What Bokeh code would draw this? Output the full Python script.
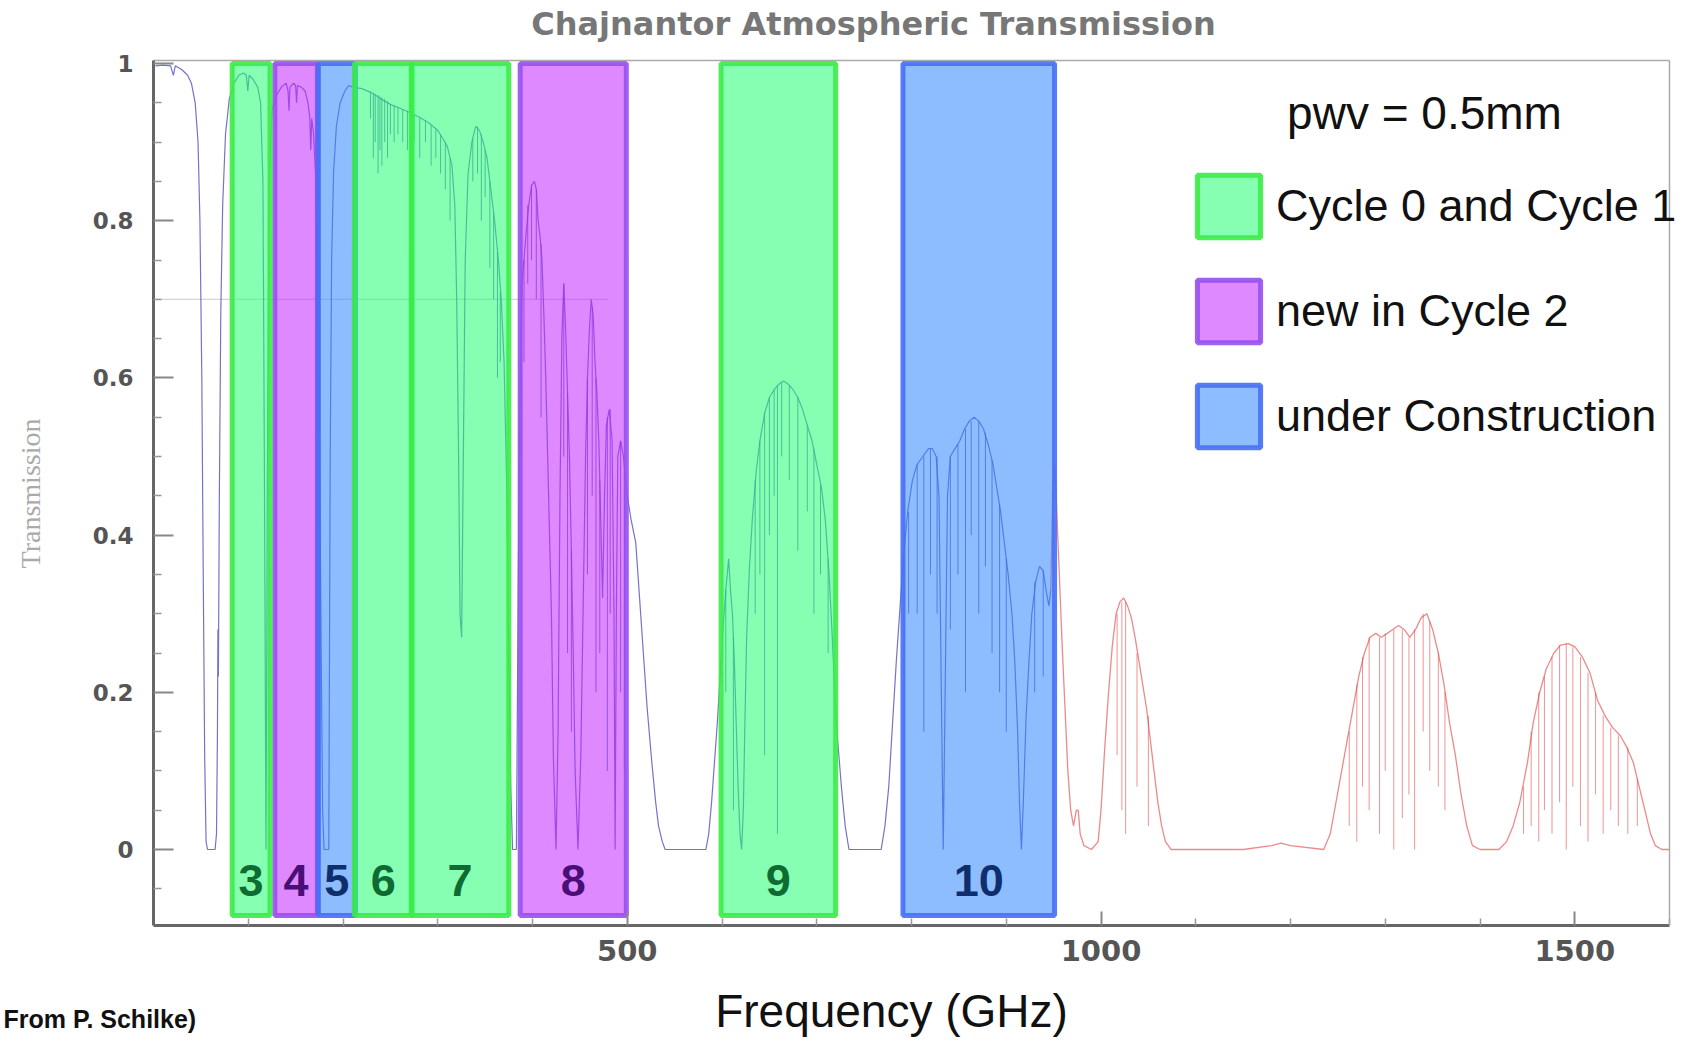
import math
from bokeh.plotting import figure
from bokeh.models import (ColumnDataSource, Label, Legend, LegendItem, FixedTicker, Range1d,
                          LinearAxis)
from bokeh.core.properties import value
from bokeh.embed import file_html
from bokeh.resources import INLINE

# ---------------- data ----------------
# ALMA bands
BAND_NAMES = ["3", "4", "5", "6", "7", "8", "9", "10"]
BAND_LO = [83, 128, 174, 212, 272, 387, 599, 791]
BAND_HI = [123, 173, 213, 273, 375, 499, 720, 951]
BAND_STATUS = ["c01", "c2", "uc", "c01", "c01", "c2", "c01", "uc"]

# transmission envelope (GHz, transmission), blue part
FREQ_A = [2, 10, 18, 21, 23, 30, 36, 40, 44, 47, 49, 51, 52.5, 54, 55.5, 57, 65, 66.5, 67.5, 68,
          68.5, 69.5, 71, 73, 76, 80, 85, 90, 95, 98, 99.5, 101, 105, 110, 113, 115.5, 117, 118.7,
          120.3, 122, 125, 130, 135, 140, 142, 143, 144, 148, 150, 151, 152, 156, 160, 163, 165,
          166, 167, 169, 171, 173, 175, 177, 178.5, 180, 185, 186.5, 188, 190, 193, 197, 202, 206,
          210, 220, 230, 240, 250, 260, 270, 280, 290, 300, 310, 315, 318, 320, 322, 323.5, 325.2,
          327, 329, 332, 336, 340, 344, 348, 352, 356, 360, 364, 367, 370, 373, 375, 377, 379, 383]
TRANS_A = [0.997, 0.998, 0.997, 0.985, 0.997, 0.992, 0.985, 0.975, 0.95, 0.9, 0.8, 0.6, 0.35, 0.12,
           0.01, 0.0, 0.0, 0.02, 0.15, 0.28, 0.22, 0.45, 0.68, 0.82, 0.91, 0.955, 0.975, 0.985,
           0.988, 0.985, 0.965, 0.985, 0.98, 0.97, 0.95, 0.85, 0.5, 0.0, 0.5, 0.85, 0.94, 0.96,
           0.97, 0.975, 0.965, 0.94, 0.97, 0.975, 0.972, 0.95, 0.972, 0.97, 0.965, 0.95, 0.93,
           0.89, 0.93, 0.91, 0.86, 0.76, 0.55, 0.25, 0.05, 0.0, 0.0, 0.5, 0.75, 0.86, 0.92, 0.95,
           0.965, 0.972, 0.97, 0.968, 0.963, 0.955, 0.948, 0.943, 0.938, 0.932, 0.925, 0.915,
           0.895, 0.87, 0.82, 0.7, 0.5, 0.3, 0.27, 0.5, 0.75, 0.86, 0.9, 0.92, 0.915, 0.9, 0.88,
           0.84, 0.8, 0.75, 0.7, 0.62, 0.45, 0.25, 0.08, 0.0, 0.0]

FREQ_B = [383, 385, 387, 389, 391, 393, 396, 399, 402, 404, 406, 408, 410, 412, 414, 416, 418, 420,
          422, 424.8, 427, 429, 431, 433, 435, 437, 439, 441, 443, 445, 448, 451, 454, 456, 458, 460,
          462, 464, 466, 468, 470, 472, 474, 476, 478, 481, 484, 486, 487.2, 488.5, 490, 493, 496,
          500, 504, 509, 513, 517, 521, 526, 530, 533, 537, 540]
TRANS_B = [0.0, 0.35, 0.6, 0.72, 0.75, 0.78, 0.82, 0.845, 0.85, 0.84, 0.8, 0.78, 0.75, 0.68, 0.6,
           0.5, 0.4, 0.3, 0.12, 0.0, 0.15, 0.45, 0.65, 0.72, 0.66, 0.58, 0.5, 0.38, 0.25, 0.1, 0.0,
           0.12, 0.35, 0.5, 0.6, 0.66, 0.7, 0.68, 0.62, 0.58, 0.52, 0.42, 0.32, 0.45, 0.54, 0.56,
           0.52, 0.3, 0.0, 0.3, 0.5, 0.52, 0.5, 0.45, 0.42, 0.39, 0.32, 0.25, 0.18, 0.11, 0.06,
           0.03, 0.01, 0.0]

FREQ_C = [540, 583, 586, 589, 592, 595, 598, 601, 604, 607, 609, 611, 613, 615, 617, 619, 620.7,
          622.5, 624, 626, 629, 632, 636, 640, 645, 650, 655, 660, 665, 670, 675, 680, 685, 690,
          695, 700, 705, 709, 713, 716, 719, 722, 726, 730, 734, 768, 772, 776, 780, 784, 788, 792,
          796, 801, 806, 812, 818, 822, 826, 829, 831.5, 833.5, 835.5, 838, 841, 846, 851, 856,
          861, 866, 871, 876, 881, 886, 890, 894, 898, 902, 906, 909, 912, 914, 916, 918, 921, 924,
          927, 931, 935, 939, 942, 945, 947]
TRANS_C = [0.0, 0.0, 0.02, 0.06, 0.11, 0.16, 0.22, 0.28, 0.33, 0.37, 0.33, 0.3, 0.24, 0.16, 0.08,
           0.02, 0.0, 0.05, 0.15, 0.27, 0.36, 0.42, 0.48, 0.52, 0.555, 0.575, 0.585, 0.592, 0.596,
           0.592, 0.585, 0.575, 0.56, 0.54, 0.52, 0.49, 0.46, 0.42, 0.35, 0.28, 0.2, 0.14, 0.08,
           0.03, 0.0, 0.0, 0.03, 0.08, 0.16, 0.24, 0.31, 0.38, 0.43, 0.47, 0.49, 0.5, 0.51, 0.51,
           0.5, 0.45, 0.2, 0.0, 0.2, 0.45, 0.5, 0.51, 0.52, 0.535, 0.545, 0.55, 0.545, 0.535,
           0.515, 0.49, 0.46, 0.43, 0.39, 0.35, 0.3, 0.24, 0.15, 0.06, 0.0, 0.06, 0.17, 0.24, 0.3,
           0.34, 0.36, 0.355, 0.33, 0.31, 0.33]

# red part (above ~950 GHz)
FREQ_RED = [947, 949, 951, 953, 956, 959, 962, 965, 968, 971, 974, 976, 978, 982, 990, 997, 1000,
            1004, 1008, 1012, 1016, 1020, 1024, 1028, 1032, 1036, 1040, 1044, 1048, 1052, 1056,
            1060, 1064, 1068, 1074, 1150, 1180, 1190, 1200, 1235, 1242, 1248, 1254, 1260, 1266,
            1272, 1278, 1284, 1290, 1296, 1302, 1308, 1314, 1320, 1326, 1332, 1338, 1344, 1350,
            1356, 1362, 1368, 1374, 1380, 1386, 1392, 1400, 1420, 1428, 1435, 1442, 1450, 1456,
            1463, 1470, 1478, 1485, 1493, 1500, 1508, 1516, 1524, 1532, 1540, 1548, 1555, 1562,
            1568, 1574, 1580, 1585, 1592, 1600]
TRANS_RED = [0.33, 0.45, 0.49, 0.44, 0.35, 0.26, 0.18, 0.1, 0.05, 0.03, 0.05, 0.05, 0.02, 0.005,
             0.0, 0.01, 0.05, 0.13, 0.2, 0.26, 0.3, 0.315, 0.32, 0.31, 0.295, 0.27, 0.24, 0.21,
             0.18, 0.14, 0.1, 0.06, 0.03, 0.01, 0.0, 0.0, 0.005, 0.008, 0.005, 0.0, 0.02, 0.06,
             0.1, 0.14, 0.18, 0.22, 0.25, 0.27, 0.275, 0.27, 0.275, 0.28, 0.285, 0.28, 0.27, 0.28,
             0.295, 0.3, 0.28, 0.25, 0.21, 0.16, 0.12, 0.07, 0.03, 0.005, 0.0, 0.0, 0.01, 0.03,
             0.06, 0.11, 0.16, 0.2, 0.23, 0.25, 0.26, 0.262, 0.258, 0.245, 0.225, 0.19, 0.17,
             0.155, 0.145, 0.13, 0.11, 0.08, 0.05, 0.02, 0.005, 0.0, 0.0]

# narrow absorption lines: frequency, transmission at top, transmission at bottom
L67_F = [229, 232, 234, 237, 239, 241, 244, 247, 250, 254, 258, 263, 268, 275, 281, 287, 293, 298,
         303, 308, 313, 337, 342, 346, 350, 355, 359, 363, 366]
L67_T = [0.963, 0.962, 0.961, 0.96, 0.958, 0.957, 0.955, 0.952, 0.948, 0.947, 0.945, 0.942, 0.94,
         0.936, 0.931, 0.928, 0.922, 0.917, 0.91, 0.9, 0.88, 0.905, 0.92, 0.91, 0.89, 0.85, 0.81,
         0.76, 0.71]
L67_B = [0.93, 0.88, 0.9, 0.86, 0.89, 0.87, 0.9, 0.88, 0.91, 0.9, 0.91, 0.9, 0.89, 0.9, 0.88, 0.9,
         0.87, 0.88, 0.86, 0.84, 0.8, 0.85, 0.86, 0.8, 0.83, 0.74, 0.7, 0.6, 0.62]
L8_F = [391, 395, 399, 404, 409, 433, 437, 441, 458, 463, 467, 471, 479, 482, 493, 497]
L8_T = [0.75, 0.82, 0.845, 0.84, 0.77, 0.72, 0.58, 0.38, 0.6, 0.69, 0.6, 0.47, 0.55, 0.56, 0.52, 0.49]
L8_B = [0.62, 0.72, 0.75, 0.7, 0.55, 0.5, 0.25, 0.15, 0.35, 0.45, 0.2, 0.25, 0.1, 0.3, 0.2, 0.1]
L9_F = [604, 612, 635, 640, 645, 650, 655, 658.5, 663, 671, 680, 690, 697, 704, 712]
L9_T = [0.33, 0.27, 0.47, 0.52, 0.555, 0.575, 0.585, 0.59, 0.595, 0.59, 0.575, 0.54, 0.51, 0.465, 0.37]
L9_B = [0.2, 0.05, 0.3, 0.35, 0.12, 0.4, 0.45, 0.02, 0.5, 0.47, 0.38, 0.43, 0.3, 0.35, 0.25]
L10_F = [797, 806, 813, 820, 827, 841, 849, 857, 863, 871, 878, 885, 893, 900, 930, 939]
L10_T = [0.43, 0.49, 0.5, 0.51, 0.5, 0.5, 0.515, 0.535, 0.545, 0.545, 0.53, 0.495, 0.44, 0.37, 0.34, 0.355]
L10_B = [0.3, 0.3, 0.15, 0.35, 0.3, 0.28, 0.35, 0.2, 0.4, 0.3, 0.36, 0.25, 0.2, 0.15, 0.2, 0.22]
LR_F = [1017, 1022, 1026, 1038, 1050, 1262, 1270, 1276, 1283, 1294, 1300, 1309, 1318, 1325, 1331,
        1340, 1347, 1356, 1363, 1446, 1454, 1462, 1468, 1476, 1484, 1491, 1498, 1506, 1514, 1522,
        1530, 1538, 1546, 1556, 1566]
LR_T = [0.3, 0.315, 0.315, 0.25, 0.17, 0.15, 0.21, 0.245, 0.27, 0.27, 0.275, 0.28, 0.28, 0.27, 0.28,
        0.3, 0.29, 0.25, 0.2, 0.08, 0.15, 0.2, 0.22, 0.245, 0.26, 0.262, 0.258, 0.245, 0.225, 0.2,
        0.17, 0.155, 0.145, 0.13, 0.09]
LR_B = [0.12, 0.05, 0.02, 0.08, 0.03, 0.03, 0.01, 0.08, 0.05, 0.02, 0.1, 0.0, 0.04, 0.07, 0.0,
        0.15, 0.1, 0.08, 0.05, 0.02, 0.03, 0.01, 0.05, 0.02, 0.06, 0.0, 0.08, 0.03, 0.01, 0.07,
        0.02, 0.05, 0.03, 0.02, 0.03]

# faint horizontal guide visible in the original at transmission 0.7
GUIDE_FREQ = [0, 480]
GUIDE_TRANS = [0.7, 0.7]

X_TICKS = [500, 1000, 1500]
X_MINOR = [100, 200, 300, 400, 600, 700, 800, 900, 1100, 1200, 1300, 1400, 1600]
Y_TICKS = [0, 0.2, 0.4, 0.6, 0.8, 1.0]
Y_MINOR = [-0.05, 0.05, 0.1, 0.15, 0.25, 0.3, 0.35, 0.45, 0.5, 0.55, 0.65, 0.7, 0.75, 0.85, 0.9, 0.95]

for a, b in [(FREQ_A, TRANS_A), (FREQ_B, TRANS_B), (FREQ_C, TRANS_C), (FREQ_RED, TRANS_RED)]:
    assert len(a) == len(b), (len(a), len(b))
for a, b, c in [(L67_F, L67_T, L67_B), (L8_F, L8_T, L8_B), (L9_F, L9_T, L9_B),
                (L10_F, L10_T, L10_B), (LR_F, LR_T, LR_B)]:
    assert len(a) == len(b) == len(c), (len(a), len(b), len(c))

# ---------------- styling ----------------
STYLE = {
    "c01": dict(fill="#23FF73", line="#3CEB46", text="#0E6B32", label="Cycle 0 and Cycle 1"),
    "c2": dict(fill="#C328FF", line="#9650F0", text="#4A0E78", label="new in Cycle 2"),
    "uc": dict(fill="#3287FF", line="#466EF5", text="#0E2E6E", label="under Construction"),
}
X_MIN, X_MAX = 0, 1600          # plotted frequency span
Y_MIN, Y_MAX = -0.097, 1.004    # plotted transmission span
BAND_TOP = 1.0
BAND_BOTTOM = -0.084
LABEL_Y = -0.04

W, H = 1690, 1040
PX_LEFT, PX_RIGHT = 153, 1669   # pixel columns of the plotted span
PX_TOP0, PX_ZERO = 63, 849      # pixel rows of transmission 1 and 0
kx = (X_MAX - X_MIN) / (PX_RIGHT - PX_LEFT)
ky = 1.0 / (PX_ZERO - PX_TOP0)
x_range = Range1d(X_MIN - PX_LEFT * kx, X_MAX + (W - PX_RIGHT) * kx)
y_range = Range1d(-(H - PX_ZERO) * ky, PX_ZERO * ky)

p = figure(width=W, height=H, x_range=x_range, y_range=y_range,
           x_axis_type=None, y_axis_type=None, min_border=0,
           output_backend="svg", toolbar_location=None)
p.xgrid.visible = False
p.ygrid.visible = False
p.outline_line_color = None
p.background_fill_color = "white"
p.border_fill_color = "white"

# faint guide and spectrum
p.line(GUIDE_FREQ, GUIDE_TRANS, line_color="#b8b8c8", line_width=1.2, line_alpha=0.6)
freq_lo = FREQ_A + FREQ_B + FREQ_C
trans_lo = TRANS_A + TRANS_B + TRANS_C
p.line(freq_lo, trans_lo, line_color="#5050bb", line_width=1.2, line_alpha=0.8)
lf = L67_F + L8_F + L9_F + L10_F
lt = L67_T + L8_T + L9_T + L10_T
lb = L67_B + L8_B + L9_B + L10_B
p.segment(x0=lf, y0=lt, x1=lf, y1=lb, line_color="#5050bb", line_width=1.0, line_alpha=0.8)
p.line(FREQ_RED, TRANS_RED, line_color="#e03c3c", line_width=1.3, line_alpha=0.6)
p.segment(x0=LR_F, y0=LR_T, x1=LR_F, y1=LR_B, line_color="#e03c3c", line_width=1.0, line_alpha=0.55)

# bands (purple, then blue, then green on top)
renderers = {}
for status in ["c2", "uc", "c01"]:
    idx = [i for i, s in enumerate(BAND_STATUS) if s == status]
    st = STYLE[status]
    src = ColumnDataSource(dict(
        left=[BAND_LO[i] for i in idx], right=[BAND_HI[i] for i in idx],
        top=[BAND_TOP] * len(idx), bottom=[BAND_BOTTOM] * len(idx)))
    renderers[status] = p.quad(left="left", right="right", top="top", bottom="bottom", source=src,
                               fill_color=st["fill"], fill_alpha=0.55,
                               line_color=st["line"], line_width=5, line_alpha=0.9)
    p.text(x=[(BAND_LO[i] + BAND_HI[i]) / 2 for i in idx], y=[LABEL_Y] * len(idx),
           text=[BAND_NAMES[i] for i in idx], text_align="center", text_baseline="middle",
           text_font=value("Liberation Sans"), text_font_style="bold", text_font_size="45px",
           text_color=st["text"])

# axes (fixed inside the canvas)
def style_axis(ax, size):
    ax.axis_line_color = "#666666"
    ax.axis_line_width = 3
    ax.major_tick_out = 0
    ax.minor_tick_out = 0
    ax.major_tick_line_color = "#888888"
    ax.minor_tick_line_color = "#999999"
    ax.major_tick_line_width = 2
    ax.minor_tick_line_width = 1.5
    ax.major_label_text_font = "DejaVu Sans"
    ax.major_label_text_font_style = "bold"
    ax.major_label_text_font_size = size
    ax.major_label_text_color = "#555555"

xaxis = LinearAxis(fixed_location=Y_MIN, bounds=(X_MIN, X_MAX),
                   ticker=FixedTicker(ticks=X_TICKS, minor_ticks=X_MINOR))
style_axis(xaxis, "29px")
xaxis.major_tick_in = 14
xaxis.minor_tick_in = 7
xaxis.major_label_standoff = 14
p.add_layout(xaxis, "below")

yaxis = LinearAxis(fixed_location=X_MIN, bounds=(Y_MIN, Y_MAX),
                   ticker=FixedTicker(ticks=Y_TICKS, minor_ticks=Y_MINOR))
style_axis(yaxis, "23px")
yaxis.major_tick_in = 20
yaxis.minor_tick_in = 8
yaxis.major_label_standoff = 20
yaxis.major_label_overrides = {0: "0", 0.2: "0.2", 0.4: "0.4", 0.6: "0.6", 0.8: "0.8", 1: "1"}
p.add_layout(yaxis, "left")

# light frame on top and right
for place, loc, bnds in [("above", Y_MAX, (X_MIN, X_MAX)), ("right", X_MAX, (Y_MIN, Y_MAX))]:
    fr = LinearAxis(fixed_location=loc, bounds=bnds, ticker=FixedTicker(ticks=[], minor_ticks=[]),
                    axis_line_color="#aaaaaa", axis_line_width=1.5,
                    major_tick_line_color=None, minor_tick_line_color=None,
                    major_label_text_font_size="0px")
    p.add_layout(fr, place)

# legend
legend = Legend(items=[LegendItem(label=STYLE[s]["label"], renderers=[renderers[s]])
                       for s in ["c01", "c2", "uc"]],
                location=(1189, 585), orientation="vertical", padding=0, margin=0, spacing=27,
                glyph_width=79, glyph_height=78, label_standoff=8,
                label_text_font="Liberation Sans", label_text_font_size="45px",
                label_text_color="#111111", background_fill_alpha=0, border_line_alpha=0)
p.add_layout(legend)

# texts (positions in data units of this canvas)
def px_to_x(px):
    return X_MIN + (px - PX_LEFT) * kx

def py_to_y(py):
    return (PX_ZERO - py) * ky

p.add_layout(Label(x=px_to_x(1424), y=py_to_y(112), text="pwv = 0.5mm", text_align="center",
                   text_baseline="middle", text_font="Liberation Sans", text_font_size="46px",
                   text_color="#111111"))
p.add_layout(Label(x=px_to_x(873), y=py_to_y(23), text="Chajnantor Atmospheric Transmission",
                   text_align="center", text_baseline="middle", text_font="DejaVu Sans",
                   text_font_style="bold", text_font_size="32px", text_color="#777777"))
p.add_layout(Label(x=px_to_x(891), y=py_to_y(1010), text="Frequency (GHz)", text_align="center",
                   text_baseline="middle", text_font="Liberation Sans", text_font_size="46px",
                   text_color="#111111"))
p.add_layout(Label(x=px_to_x(30), y=py_to_y(493), text="Transmission", angle=math.pi / 2,
                   text_align="center", text_baseline="middle", text_font="Liberation Serif",
                   text_font_size="28px", text_color="#aaaaaa"))
p.add_layout(Label(x=px_to_x(3), y=py_to_y(1018), text="From P. Schilke)", text_align="left",
                   text_baseline="middle", text_font="Liberation Sans", text_font_style="bold",
                   text_font_size="25px", text_color="#111111"))

open("out.html", "w").write(file_html(p, INLINE))
